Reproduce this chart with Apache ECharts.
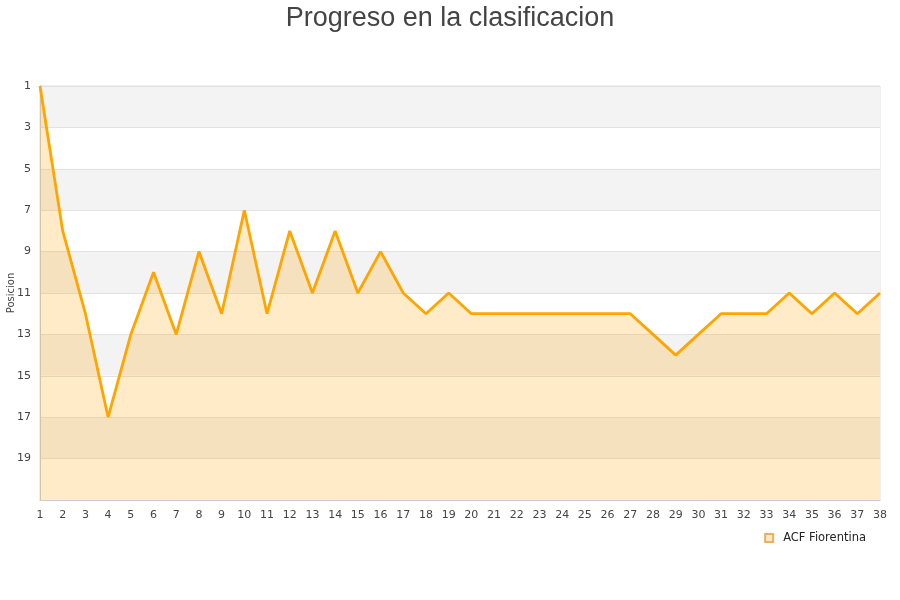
<!DOCTYPE html>
<html>
<head>
<meta charset="utf-8">
<script src="https://cdn.jsdelivr.net/npm/echarts@6/dist/echarts.min.js"></script>
<style>html,body{margin:0;padding:0;background:#fff}#c{width:900px;height:600px}</style>
</head>
<body>
<div id="c"></div>
<script>
var rounds = ['1','2','3','4','5','6','7','8','9','10','11','12','13','14','15','16','17','18','19','20','21','22','23','24','25','26','27','28','29','30','31','32','33','34','35','36','37','38'];
var positions = [1,8,12,17,13,10,13,9,12,7,12,8,11,8,11,9,11,12,11,12,12,12,12,12,12,12,12,13,14,13,12,12,12,11,12,11,12,11];
var teamName = 'ACF Fiorentina';
var titleText = 'Progreso en la clasificacion';
var yName = 'Posicion';

var chart = echarts.init(document.getElementById('c'));
chart.setOption({
  animation: false,
  title: {
    text: titleText, left: 'center', top: 0,
    textStyle: {fontFamily: 'Liberation Sans, Arial', fontSize: 27, fontWeight: 'normal', color: '#444'}
  },
  legend: {
    data: [teamName], right: 29, top: 527, itemWidth: 8, itemHeight: 8, itemGap: 9,
    icon: 'rect',
    textStyle: {fontFamily: 'DejaVu Sans', fontSize: 11.5, color: '#222', padding: [0, 0, 0, 5]}
  },
  grid: {left: 40, right: 20, top: 86, bottom: 100, containLabel: false, outerBoundsMode: 'none', show: true, borderColor: '#ddd', borderWidth: 1, backgroundColor: 'transparent'},
  xAxis: {
    type: 'category', data: rounds, boundaryGap: false,
    axisLine: {lineStyle: {color: '#ccc'}},
    axisTick: {show: false},
    axisLabel: {color: '#444', fontFamily: 'DejaVu Sans', fontSize: 11, margin: 10, interval: 0},
    splitLine: {show: false}
  },
  yAxis: {
    type: 'value', inverse: true, min: 1, max: 21, interval: 2,
    name: yName, nameLocation: 'middle', nameGap: 24, nameMoveOverlap: false,
    nameTextStyle: {color: '#444', fontFamily: 'DejaVu Sans', fontSize: 10},
    axisLine: {show: true, lineStyle: {color: '#ccc'}},
    axisTick: {show: false},
    axisLabel: {color: '#444', fontFamily: 'DejaVu Sans', fontSize: 11, margin: 9, showMaxLabel: false},
    splitLine: {show: true, lineStyle: {color: '#e2e2e2'}},
    splitArea: {show: true, areaStyle: {color: ['#f3f3f3', '#ffffff']}}
  },
  series: [{
    name: teamName, type: 'line', data: positions,
    symbol: 'none',
    lineStyle: {color: '#ffa500', width: 2.8},
    itemStyle: {color: '#ffe9c2', borderColor: '#e8b060', borderWidth: 1},
    areaStyle: {color: '#ffa500', opacity: 0.22, origin: 'end'}
  }]
});
</script>
</body>
</html>
